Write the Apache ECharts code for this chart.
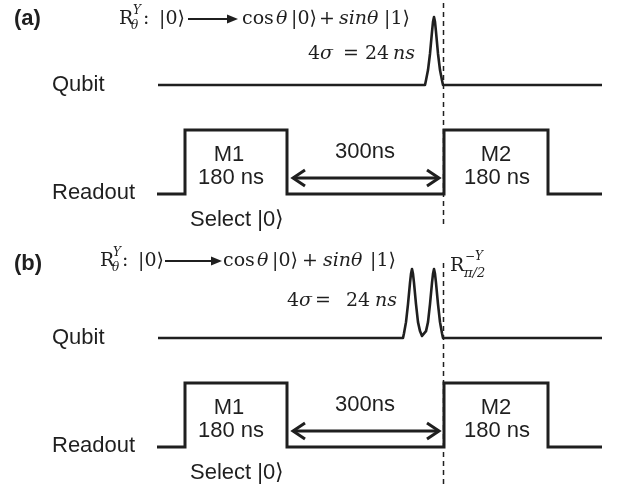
<!DOCTYPE html>
<html><head><meta charset="utf-8">
<script src="https://cdn.jsdelivr.net/npm/echarts@6/dist/echarts.min.js"></script>
<style>html,body{margin:0;padding:0;background:#fff}#c{width:625px;height:491px}</style>
</head><body><div id="c"></div>
<script>
// ---- data (schematic time units, normalised signal levels) ----
const qubitA_t = [158, 425, 426, 428, 430, 432, 433, 434, 435, 436, 438, 440, 442, 443, 602];
const qubitA_v = [0, 0, 0.07, 0.22, 0.46, 0.78, 0.93, 1, 0.93, 0.78, 0.46, 0.22, 0.07, 0, 0];
const qubitB_t = [158, 403, 404, 406, 408, 410, 411, 412, 413, 414, 416, 418, 420, 422, 423,
                  424, 426, 428, 430, 432, 433, 434, 435, 436, 438, 440, 442, 443, 602];
const qubitB_v = [0, 0, 0.07, 0.23, 0.49, 0.8, 0.93, 1, 0.93, 0.8, 0.49, 0.23, 0.1, 0.03, 0.02,
                  0.03, 0.1, 0.23, 0.49, 0.8, 0.93, 1, 0.93, 0.8, 0.49, 0.23, 0.07, 0, 0];
const readout_t = [157, 185, 185, 287, 287, 444, 444, 548, 548, 602];
const readout_v = [0, 0, 1, 1, 0, 0, 1, 1, 0, 0];
const delayArrow_t = [293, 439];
const delayArrow_v = 0.25;
const trackLabels = ['Qubit', 'Readout'];
const pulseLabels = ['M1', 'M2'];
const pulseDuration = '180 ns';
const delayLabel = '300ns';
const selectLabel = 'Select |0⟩';
const panelLabels = ['(a)', '(b)'];

// ---- build ----
const INK = '#1f1f1f';
const zip = (t, v) => t.map((x, i) => [x, v[i]]);
const SANS = '"Liberation Sans", Arial, sans-serif';
const SERIF = '"DejaVu Serif", "Liberation Serif", serif';

const grids = [
  {left: 0, width: 625, top: 17, height: 68},
  {left: 0, width: 625, top: 130, height: 64},
  {left: 0, width: 625, top: 269, height: 69},
  {left: 0, width: 625, top: 383, height: 64}
];
const xAxes = grids.map((g, i) => ({type: 'value', gridIndex: i, min: 0, max: 625, show: false}));
const yAxes = grids.map((g, i) => ({type: 'value', gridIndex: i, min: 0, max: 1, show: false}));

function wave(idx, data, w, join) {
  return {type: 'line', xAxisIndex: idx, yAxisIndex: idx, data: data, showSymbol: false, symbol: 'none',
    clip: false, silent: true, animation: false,
    lineStyle: {color: INK, width: w || 3, join: join || 'miter'}};
}
const headDx = 12, headDy = 8 / 64;
function delayArrows(idx) {
  const [a, b] = delayArrow_t, v = delayArrow_v;
  return [
    wave(idx, [[a, v], [b, v]], 3),
    wave(idx, [[a + headDx, v + headDy], [a, v], [a + headDx, v - headDy]], 3),
    wave(idx, [[b - headDx, v + headDy], [b, v], [b - headDx, v - headDy]], 3)
  ];
}

const series = [
  wave(0, zip(qubitA_t, qubitA_v), 2.6, 'round'),
  wave(1, zip(readout_t, readout_v)),
  wave(2, zip(qubitB_t, qubitB_v), 2.6, 'round'),
  wave(3, zip(readout_t, readout_v)),
  ...delayArrows(1),
  ...delayArrows(3)
];

function txt(x, y, text, font, align) {
  return {type: 'text', x: x, y: y, silent: true,
    style: {text: text, font: font, fill: INK, align: align || 'left', verticalAlign: 'middle'}};
}
function arrow(x1, x2, y) {
  return [
    {type: 'line', silent: true, shape: {x1: x1, y1: y, x2: x2 - 8, y2: y}, style: {stroke: INK, lineWidth: 2}},
    {type: 'polygon', silent: true, shape: {points: [[x2 - 11, y - 4.5], [x2, y], [x2 - 11, y + 4.5]]}, style: {fill: INK}}
  ];
}
function dashed(x, y1, y2) {
  return {type: 'line', silent: true, shape: {x1: x, y1: y1, x2: x, y2: y2},
    style: {stroke: INK, lineWidth: 1.5, lineDash: [5, 4]}};
}
const F = '19px ' + SERIF, FI = 'italic 19px ' + SERIF, FSI = 'italic 12px ' + SERIF, FSI2 = 'italic 13px ' + SERIF;
const L = '22px ' + SANS, B = 'bold 22px ' + SANS;

function panel(dy, p) {
  const g = [];
  const tq = 85 + dy, tr = 194 + dy, top = 130 + dy;
  g.push(txt(14, (p ? 264 : 19), panelLabels[p], B));
  g.push(txt(52, tq, trackLabels[0], L));
  g.push(txt(52, tr - 1, trackLabels[1], L));
  g.push(txt(229, top + 25, pulseLabels[0], L, 'center'));
  g.push(txt(231, top + 48, pulseDuration, L, 'center'));
  g.push(txt(496, top + 25, pulseLabels[1], L, 'center'));
  g.push(txt(497, top + 48, pulseDuration, L, 'center'));
  g.push(txt(365, top + 22, delayLabel, L, 'center'));
  g.push(txt(190, tr + 26, selectLabel, L));
  return g;
}

const graphic = [
  ...panel(0, 0), ...panel(253, 1),
  // panel (a) formula
  txt(119, 19, 'R', F), txt(133, 11, 'Y', FSI), txt(131, 26, 'θ', FSI), txt(143, 19, ':', F),
  txt(159, 19, '|0⟩', F), ...arrow(188, 238, 19),
  txt(242, 19, 'cos', F), txt(276, 19, 'θ', FI), txt(291, 19, '|0⟩', F),
  txt(319, 19, '+', F), txt(339, 19, 'sinθ', FI), txt(384, 19, '|1⟩', F),
  txt(308, 54, '4', F), txt(320, 54, 'σ', FI), txt(343, 54, '=', F), txt(365, 54, '24', F), txt(393, 54, 'ns', FI),
  dashed(443.5, 3, 226),
  // panel (b) formula
  txt(100, 261, 'R', F), txt(113, 253, 'Y', FSI), txt(112, 268, 'θ', FSI), txt(122, 261, ':', F),
  txt(138, 261, '|0⟩', F), ...arrow(165, 222, 261),
  txt(223, 261, 'cos', F), txt(257, 261, 'θ', FI), txt(272, 261, '|0⟩', F),
  txt(302, 261, '+', F), txt(323, 261, 'sinθ', FI), txt(370, 261, '|1⟩', F),
  txt(287, 301, '4', F), txt(299, 301, 'σ', FI), txt(315, 301, '=', F), txt(346, 301, '24', F), txt(375, 301, 'ns', FI),
  txt(450, 266, 'R', F), txt(465, 257, '−Y', FSI), txt(464, 274, 'π/2', FSI2),
  dashed(443.5, 263, 488)
];

const chart = echarts.init(document.getElementById('c'), null, {renderer: 'canvas'});
chart.setOption({
  backgroundColor: '#fff', animation: false,
  grid: grids, xAxis: xAxes, yAxis: yAxes, series: series, graphic: graphic
});
</script></body></html>
